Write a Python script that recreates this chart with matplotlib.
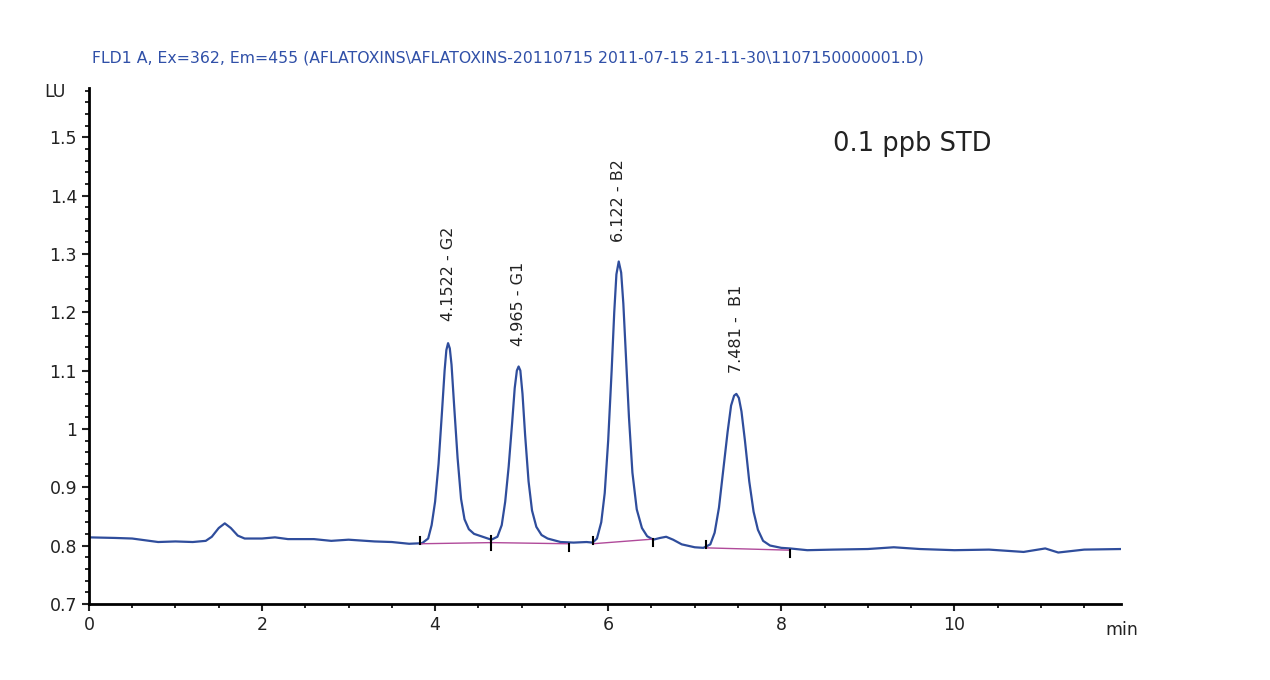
import matplotlib.pyplot as plt
from matplotlib.ticker import MultipleLocator

plt.rcParams['font.family'] = ['DejaVu Sans']

# chromatogram trace (time in min, signal in LU)
time = [0, 0.3, 0.5, 0.8, 1.0, 1.2, 1.35, 1.42, 1.5, 1.57, 1.64, 1.72, 1.8, 2.0, 2.15, 2.3,
        2.6, 2.8, 3.0, 3.3, 3.5, 3.7, 3.85, 3.92, 3.96, 4.0, 4.04, 4.08, 4.11, 4.13, 4.15,
        4.17, 4.19, 4.22, 4.26, 4.30, 4.34, 4.39, 4.45, 4.55, 4.65, 4.72, 4.77, 4.81, 4.85,
        4.89, 4.92, 4.945, 4.965, 4.985, 5.01, 5.04, 5.08, 5.12, 5.17, 5.23, 5.30, 5.45,
        5.6, 5.75, 5.82, 5.87, 5.92, 5.96, 6.0, 6.04, 6.07, 6.095, 6.122, 6.15, 6.175,
        6.2, 6.24, 6.28, 6.33, 6.39, 6.45, 6.52, 6.6, 6.67, 6.75, 6.85, 7.0, 7.1, 7.18,
        7.23, 7.28, 7.33, 7.38, 7.42, 7.455, 7.481, 7.51, 7.54, 7.58, 7.63, 7.68, 7.73,
        7.79, 7.87, 8.0, 8.1, 8.3, 8.6, 9.0, 9.3, 9.6, 10.0, 10.4, 10.8, 11.05, 11.2, 11.5,
        11.93]
signal = [0.814, 0.813, 0.812, 0.806, 0.807, 0.806, 0.808, 0.815, 0.830, 0.838, 0.830, 0.817,
          0.812, 0.812, 0.814, 0.811, 0.811, 0.808, 0.810, 0.807, 0.806, 0.803, 0.804, 0.812,
          0.835, 0.875, 0.940, 1.030, 1.100, 1.135, 1.147, 1.138, 1.110, 1.040, 0.950, 0.880,
          0.845, 0.828, 0.820, 0.815, 0.810, 0.815, 0.835, 0.875, 0.935, 1.010, 1.070, 1.100,
          1.107, 1.100, 1.060, 0.990, 0.910, 0.860, 0.832, 0.818, 0.812, 0.806, 0.805, 0.806,
          0.805, 0.812, 0.840, 0.890, 0.980, 1.100, 1.200, 1.265, 1.287, 1.268, 1.215, 1.140,
          1.020, 0.925, 0.862, 0.830, 0.816, 0.810, 0.813, 0.815, 0.810, 0.802, 0.797, 0.796,
          0.802, 0.822, 0.865, 0.930, 0.995, 1.040, 1.057, 1.060, 1.053, 1.030, 0.980, 0.910,
          0.858, 0.827, 0.808, 0.800, 0.796, 0.795, 0.792, 0.793, 0.794, 0.797, 0.794, 0.792,
          0.793, 0.789, 0.795, 0.788, 0.793, 0.794]

# integration baselines (start, end)
base_t = [(3.82, 4.65), (4.65, 5.55), (5.82, 6.52), (7.13, 8.1)]
base_v = [(0.803, 0.805), (0.805, 0.803), (0.803, 0.811), (0.796, 0.792)]

peak_t = [4.1522, 4.965, 6.122, 7.481]
peak_labels = ['4.1522 - G2', '4.965 - G1', '6.122 - B2', '7.481 -  B1']
label_y = [1.185, 1.142, 1.321, 1.096]

fig = plt.figure(figsize=(12.7, 6.8), dpi=100)
ax = fig.add_axes([0.070, 0.112, 0.813, 0.759])

ax.plot(time, signal, color='#2f4d9c', linewidth=1.6)
for (t0, t1), (v0, v1) in zip(base_t, base_v):
    ax.plot([t0, t1], [v0, v1], color='#b04a9a', linewidth=1.0)
    ax.plot([t0, t0], [v0, v0 + 0.012], color='black', linewidth=1.5)
    ax.plot([t1, t1], [v1, v1 - 0.012], color='black', linewidth=1.5)

for t, lab, y in zip(peak_t, peak_labels, label_y):
    ax.text(t, y, lab, rotation=90, ha='center', va='bottom', fontsize=11.5, color='#222222')

ax.text(8.6, 1.488, '0.1 ppb STD', fontsize=18.5, color='#222222', va='center')

ax.set_xlim(0, 11.93)
ax.set_ylim(0.7, 1.585)
ax.xaxis.set_major_locator(MultipleLocator(2))
ax.xaxis.set_minor_locator(MultipleLocator(0.5))
ax.yaxis.set_minor_locator(MultipleLocator(0.02))
ax.set_yticks([0.7, 0.8, 0.9, 1.0, 1.1, 1.2, 1.3, 1.4, 1.5])
ax.set_yticklabels(['0.7', '0.8', '0.9', '1', '1.1', '1.2', '1.3', '1.4', '1.5'])
ax.tick_params(which='major', direction='out', length=5, width=1.5, labelsize=12.5, colors='#222222')
ax.tick_params(which='minor', direction='out', length=3, width=1.2)
for s in ['top', 'right']:
    ax.spines[s].set_visible(False)
for s in ['left', 'bottom']:
    ax.spines[s].set_linewidth(2)

fig.text(1122 / 1270, 1 - 630 / 680, 'min', fontsize=12.5, ha='center', va='center', color='#222222')
fig.text(55 / 1270, 1 - 92 / 680, 'LU', fontsize=12.5, ha='center', va='center', color='#222222')
fig.text(92 / 1270, 1 - 58 / 680,
         'FLD1 A, Ex=362, Em=455 (AFLATOXINS\\AFLATOXINS-20110715 2011-07-15 21-11-30\\1107150000001.D)',
         fontsize=11.3, color='#3050a8', va='center')

fig.savefig('out.png', dpi=100)
